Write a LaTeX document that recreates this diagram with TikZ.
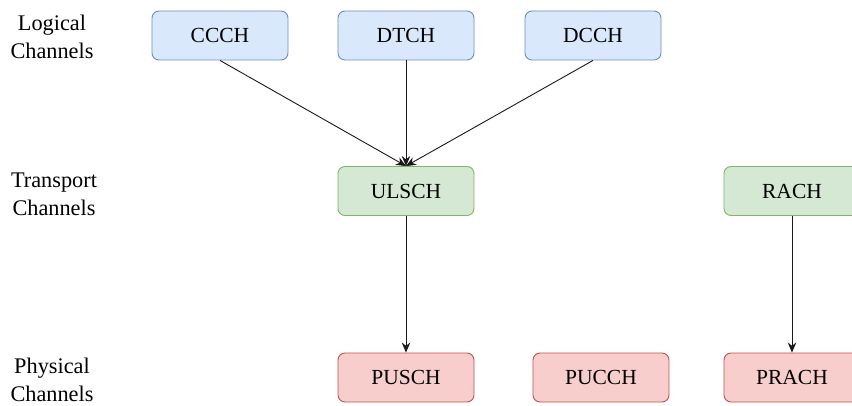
\documentclass[tikz,border=0pt]{standalone}
\usepackage{fontspec}
\setmainfont{Liberation Serif}
\usetikzlibrary{arrows.meta}
\definecolor{logfill}{HTML}{DAE8FC}
\definecolor{logline}{HTML}{6C8EBF}
\definecolor{trfill}{HTML}{D5E8D4}
\definecolor{trline}{HTML}{82B366}
\definecolor{phyfill}{HTML}{F8CECC}
\definecolor{phyline}{HTML}{B85450}
\begin{document}
\begin{tikzpicture}[x=1pt,y=-1pt,
  chbox/.style={draw, line width=0.9pt, rounded corners=7pt, minimum width=136pt,
    minimum height=49pt, inner sep=0pt, font=\fontsize{21.5}{24}\selectfont},
  logical/.style={chbox, fill=logfill, draw=logline},
  transport/.style={chbox, fill=trfill, draw=trline},
  physical/.style={chbox, fill=phyfill, draw=phyline},
  layer/.style={align=center, font=\fontsize{22.3}{28}\selectfont},
  link/.style={draw=black!90, line width=0.9pt, -{Stealth[length=10pt,width=8.5pt]}}]
\useasboundingbox (0,0) rectangle (852,406);
\clip (0,0) rectangle (852,406);

% layer captions
\node[layer] (lcap) at (52,37) {Logical\\Channels};
\node[layer] (tcap) at (54,194) {Transport\\Channels};
\node[layer] (pcap) at (52,380) {Physical\\Channels};

% logical channels
\node[logical] (ccch) at (220,35.5) {CCCH};
\node[logical] (dtch) at (406,35.5) {DTCH};
\node[logical] (dcch) at (593,35.5) {DCCH};

% transport channels
\node[transport] (ulsch) at (406,191) {ULSCH};
\node[transport] (rach) at (792,191) {RACH};

% physical channels
\node[physical] (pusch) at (406,377.5) {PUSCH};
\node[physical] (pucch) at (601,377.5) {PUCCH};
\node[physical] (prach) at (792,377.5) {PRACH};

% mappings
\draw[link] (ccch.south) -- (ulsch.north);
\draw[link] (dtch.south) -- (ulsch.north);
\draw[link] (dcch.south) -- (ulsch.north);
\draw[link] (ulsch.south) -- (pusch.north);
\draw[link] (rach.south) -- (prach.north);
\end{tikzpicture}
\end{document}
